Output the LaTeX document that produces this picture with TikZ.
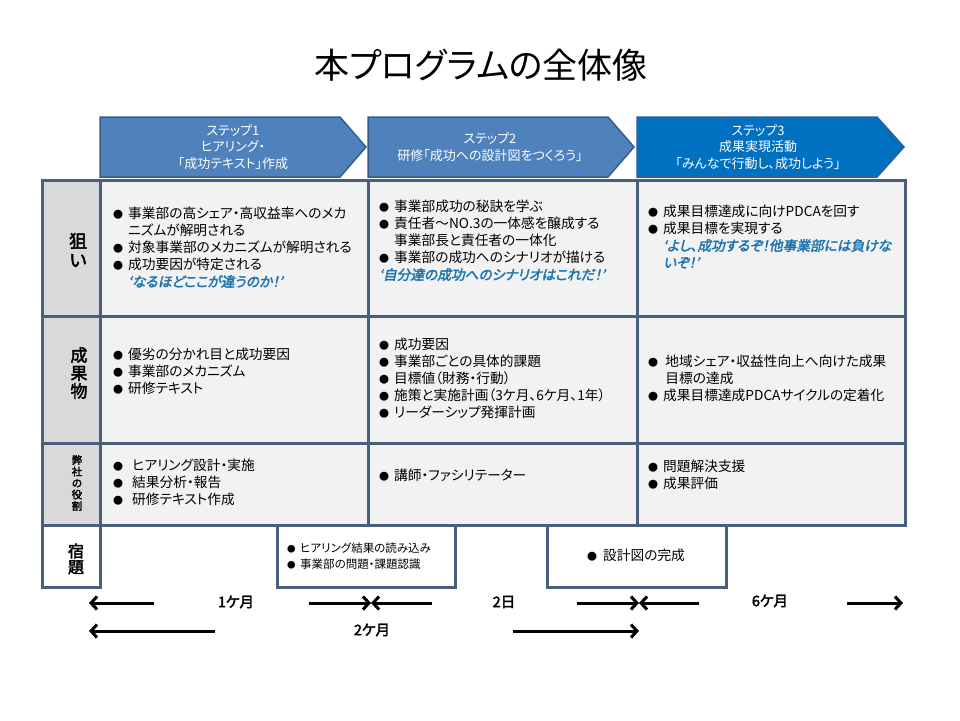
\documentclass[tikz,border=0pt]{standalone}
\usepackage{fontspec}
\setmainfont{Noto Sans CJK JP}[AutoFakeBold=2.5,AutoFakeSlant=0.2,RawFeature=+palt]
\usetikzlibrary{arrows.meta}
\definecolor{gridline}{HTML}{4A5E7E}
\definecolor{stepfill}{HTML}{4F81BD}
\definecolor{stepfillb}{HTML}{0070C0}
\definecolor{stepline}{HTML}{385D8A}
\definecolor{labfill}{HTML}{D9D9D9}
\definecolor{cellfill}{HTML}{F2F2F2}
\definecolor{quotecol}{HTML}{1F74B0}
\newcommand{\bl}{\makebox[15pt][l]{\raisebox{0.5pt}{\fontsize{10}{10}\selectfont ●}}}
\newcommand{\ind}{\hspace*{15pt}}
\newcommand{\qt}[1]{{\color{quotecol}\bfseries\itshape #1}}
\tikzset{
  cellbox/.style={draw=gridline, line width=3pt, fill=cellfill, anchor=north west, inner sep=0pt, outer sep=0pt},
  labbox/.style={cellbox, fill=labfill},
  whitebox/.style={cellbox, fill=white},
  txt/.style={anchor=north west, align=left, inner sep=0pt, font=\fontsize{13.7}{17}\selectfont},
  smalltxt/.style={txt, font=\fontsize{11.5}{16}\selectfont},
  labtxt/.style={align=center, inner sep=0pt, font=\bfseries\fontsize{18}{19}\selectfont},
  stepA/.style={fill=stepfill, draw=stepline, line width=1.5pt, line join=miter},
  stepB/.style={stepA, fill=stepfillb},
  steptxt/.style={align=center, text=white, inner sep=0pt, font=\fontsize{13}{16.5}\selectfont},
  tl/.style={line width=3pt, -{Straight Barb[length=6pt,width=13pt]}},
  tltxt/.style={inner sep=0pt, font=\bfseries\fontsize{14.5}{16}\selectfont}
}
\begin{document}
\begin{tikzpicture}[x=1pt,y=-1pt]
\fill[white] (0,0) rectangle (960,720);
\useasboundingbox (0,0) rectangle (960,720);

% title
\node[inner sep=0pt, font=\fontsize{35}{38}\selectfont] (title) at (481,65) {本プログラムの全体像};

% step chevrons
\path[stepA] (100,117) -- (340,117) -- (366,147) -- (340,177) -- (100,177) -- cycle;
\path[stepA] (368,117) -- (608,117) -- (634,147) -- (608,177) -- (368,177) -- cycle;
\path[stepB] (637,117) -- (877,117) -- (904,147) -- (877,177) -- (637,177) -- cycle;
\node[steptxt] (s1) at (233,147) {ステップ1\\ヒアリング・\\「成功テキスト」作成};
\node[steptxt] (s2) at (490,147) {ステップ2\\研修「成功への設計図をつくろう」};
\node[steptxt] (s3) at (758,147) {ステップ3\\成果実現活動\\「みんなで行動し、成功しよう」};

% grid cells
\node[labbox, minimum width=58pt, minimum height=136pt] (l1) at (42,180) {};
\node[labbox, minimum width=58pt, minimum height=127pt] (l2) at (42,316) {};
\node[labbox, minimum width=58pt, minimum height=82pt] (l3) at (42,443) {};
\node[whitebox, minimum width=58pt, minimum height=62pt] (l4) at (42,525) {};

\node[cellbox, minimum width=268pt, minimum height=136pt] (c11) at (100,180) {};
\node[cellbox, minimum width=269pt, minimum height=136pt] (c12) at (368,180) {};
\node[cellbox, minimum width=268pt, minimum height=136pt] (c13) at (637,180) {};
\node[cellbox, minimum width=268pt, minimum height=127pt] (c21) at (100,316) {};
\node[cellbox, minimum width=269pt, minimum height=127pt] (c22) at (368,316) {};
\node[cellbox, minimum width=268pt, minimum height=127pt] (c23) at (637,316) {};
\node[cellbox, minimum width=268pt, minimum height=82pt] (c31) at (100,443) {};
\node[cellbox, minimum width=269pt, minimum height=82pt] (c32) at (368,443) {};
\node[cellbox, minimum width=268pt, minimum height=82pt] (c33) at (637,443) {};
\node[whitebox, minimum width=178pt, minimum height=62pt] (hwA) at (277,525) {};
\node[whitebox, minimum width=179pt, minimum height=62pt] (hwB) at (547,525) {};

% row labels
\node[labtxt] (lab1) at (78,250) {狙\\い};
\node[labtxt, font=\bfseries\fontsize{17}{18}\selectfont] (lab2) at (79,373) {成\\果\\物};
\node[labtxt, font=\bfseries\fontsize{10.5}{11.5}\selectfont] (lab3) at (77,483) {弊\\社\\の\\役\\割};
\node[labtxt, font=\bfseries\fontsize{16}{16}\selectfont] (lab4) at (76,559) {宿\\題};

% row 1
\node[txt] (t11) at (113,207) {\bl 事業部の高シェア・高収益率へのメカ\\
\ind ニズムが解明される\\
\bl 対象事業部のメカニズムが解明される\\
\bl 成功要因が特定される\\
\ind\qt{‘なるほどここが違うのか！’}};
\node[txt] (t12) at (379,200) {\bl 事業部成功の秘訣を学ぶ\\
\bl 責任者～NO.3の一体感を醸成する\\
\ind 事業部長と責任者の一体化\\
\bl 事業部の成功へのシナリオが描ける\\
\qt{‘自分達の成功へのシナリオはこれだ！’}};
\node[txt] (t13) at (648,205) {\bl 成果目標達成に向けPDCAを回す\\
\bl 成果目標を実現する\\
\ind\qt{‘よし、成功するぞ！他事業部には負けな}\\
\ind\qt{いぞ！’}};

% row 2
\node[txt] (t21) at (113,348) {\bl 優劣の分かれ目と成功要因\\
\bl 事業部のメカニズム\\
\bl 研修テキスト};
\node[txt] (t22) at (379,338) {\bl 成功要因\\
\bl 事業部ごとの具体的課題\\
\bl 目標値（財務・行動）\\
\bl 施策と実施計画（3ケ月、6ケ月、1年）\\
\bl リーダーシップ発揮計画};
\node[txt] (t23) at (648,355) {\bl \,地域シェア・収益性向上へ向けた成果\\
\ind\,目標の達成\\
\bl 成果目標達成PDCAサイクルの定着化};

% row 3
\node[txt] (t31) at (113,459) {\makebox[19pt][l]{\raisebox{0.5pt}{\fontsize{10}{10}\selectfont ●}}ヒアリング設計・実施\\
\makebox[19pt][l]{\raisebox{0.5pt}{\fontsize{10}{10}\selectfont ●}}結果分析・報告\\
\makebox[19pt][l]{\raisebox{0.5pt}{\fontsize{10}{10}\selectfont ●}}研修テキスト作成};
\node[txt] (t32) at (379,469) {\bl 講師・ファシリテーター};
\node[txt] (t33) at (648,460) {\bl 問題解決支援\\
\bl 成果評価};

% row 4 (homework)
\node[smalltxt] (h1) at (287,543) {\makebox[13pt][l]{\raisebox{0.5pt}{\fontsize{8.5}{9}\selectfont ●}}ヒアリング結果の読み込み\\
\makebox[13pt][l]{\raisebox{0.5pt}{\fontsize{8.5}{9}\selectfont ●}}事業部の問題・課題認識};
\node[txt] (h2) at (587,549) {\makebox[16pt][l]{\raisebox{0.5pt}{\fontsize{10}{10}\selectfont ●}}設計図の完成};

% timeline row 1
\coordinate (a0) at (89,603);
\coordinate (a1) at (154,603);
\coordinate (a2) at (309,603);
\coordinate (a3) at (371,603);
\coordinate (a4) at (432,603);
\coordinate (a5) at (577,603);
\coordinate (a6) at (639,603);
\coordinate (a7) at (699,603);
\coordinate (a8) at (847,603);
\coordinate (a9) at (903,603);
\node[tltxt] (m1) at (236,602) {1ケ月};
\node[tltxt] (m2) at (504,602) {2日};
\node[tltxt] (m3) at (770,601) {6ケ月};
\draw[tl] (a1) -- (a0);
\draw[tl] (a2) -- (a3);
\draw[tl] (a4) -- (a3);
\draw[tl] (a5) -- (a6);
\draw[tl] (a7) -- (a6);
\draw[tl] (a8) -- (a9);

% timeline row 2
\coordinate (b0) at (89,631);
\coordinate (b1) at (215,631);
\coordinate (b2) at (513,631);
\coordinate (b3) at (639,631);
\node[tltxt] (m4) at (372,630) {2ケ月};
\draw[tl] (b1) -- (b0);
\draw[tl] (b2) -- (b3);
\end{tikzpicture}
\end{document}
